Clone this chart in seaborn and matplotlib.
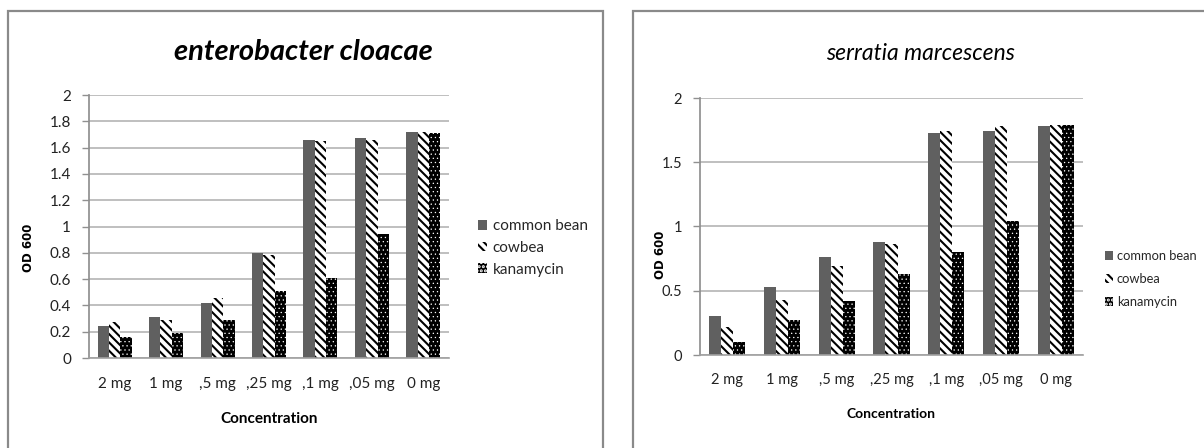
import matplotlib
matplotlib.use('Agg')
import matplotlib.pyplot as plt
import seaborn as sns
import pandas as pd
from matplotlib.patches import Rectangle, Patch
from matplotlib import font_manager

# ---------------- data ----------------
categories = ['2 mg', '1 mg', ',5 mg', ',25 mg', ',1 mg', ',05 mg', '0 mg']
series = ['common bean', 'cowbea', 'kanamycin']

ec_common = [0.24, 0.31, 0.42, 0.80, 1.66, 1.67, 1.72]
ec_cowbea = [0.27, 0.29, 0.46, 0.78, 1.65, 1.66, 1.72]
ec_kana = [0.16, 0.19, 0.29, 0.51, 0.61, 0.94, 1.71]

sm_common = [0.30, 0.53, 0.76, 0.88, 1.73, 1.74, 1.78]
sm_cowbea = [0.22, 0.43, 0.69, 0.86, 1.74, 1.78, 1.79]
sm_kana = [0.10, 0.27, 0.42, 0.63, 0.80, 1.04, 1.79]

ec_yticks = [0, 0.2, 0.4, 0.6, 0.8, 1.0, 1.2, 1.4, 1.6, 1.8, 2.0]
ec_yticklabels = ['0', '0.2', '0.4', '0.6', '0.8', '1', '1.2', '1.4', '1.6', '1.8', '2']
sm_yticks = [0, 0.5, 1.0, 1.5, 2.0]
sm_yticklabels = ['0', '0.5', '1', '1.5', '2']

# ---------------- style ----------------
sns.set_theme(style='white')
fams = {f.name for f in font_manager.fontManager.ttflist}
main_font = 'Lato' if 'Lato' in fams else 'DejaVu Sans'
plt.rcParams['font.family'] = [main_font, 'DejaVu Sans']
plt.rcParams['hatch.linewidth'] = 1.5

GRAY = '#606060'
GRID = '#b4b4b4'
COW_HATCH = '\\\\\\\\'
KAN_HATCH = '....'


def make_df(common, cowbea, kana):
    return pd.DataFrame({
        'Concentration': categories * 3,
        'OD': list(common) + list(cowbea) + list(kana),
        'series': [series[0]] * len(categories) + [series[1]] * len(categories)
                  + [series[2]] * len(categories),
    })


def style_patch(p, i):
    if i == 0:
        p.set_facecolor(GRAY)
        p.set_edgecolor(GRAY)
        p.set_linewidth(0)
    elif i == 1:
        p.set_facecolor('white')
        p.set_edgecolor('black')
        p.set_hatch(COW_HATCH)
        p.set_linewidth(0)
    else:
        p.set_facecolor('black')
        p.set_edgecolor('white')
        p.set_hatch(KAN_HATCH)
        p.set_linewidth(0)
        try:
            p.set_hatch_linewidth(0.4)
        except Exception:
            pass


def style_bars(ax):
    for i, cont in enumerate(ax.containers):
        for p in cont.patches:
            style_patch(p, i)


def legend_handles():
    hs = []
    for i in range(3):
        h = Patch()
        style_patch(h, i)
        hs.append(h)
    return hs


def draw(ax, df, yticks, yticklabels, fs, xpad):
    sns.barplot(data=df, x='Concentration', y='OD', hue='series', hue_order=series,
                order=categories, palette=[GRAY, 'white', 'black'], width=0.66,
                gap=0, saturation=1, legend=False, ax=ax, errorbar=None)
    style_bars(ax)
    ax.set_ylim(0, 2)
    ax.set_xlim(-0.5, len(categories) - 0.5)
    ax.set_yticks(yticks)
    ax.set_yticklabels(yticklabels)
    ax.set_axisbelow(True)
    ax.yaxis.grid(True, color=GRID, linewidth=1.2)
    ax.xaxis.grid(False)
    for s in ['top', 'right']:
        ax.spines[s].set_visible(False)
    ax.spines['left'].set_color('#909090')
    ax.spines['bottom'].set_color('#a0a0a0')
    ax.spines['bottom'].set_linewidth(1.2)
    ax.tick_params(axis='y', left=True, length=5, width=1, color='#909090',
                   labelsize=fs, labelcolor='#222222', pad=8)
    ax.tick_params(axis='x', bottom=False, length=0, labelsize=fs,
                   labelcolor='#222222', pad=xpad)
    ax.set_xlabel('')
    ax.set_ylabel('')
    ax.set_facecolor('white')


fig = plt.figure(figsize=(12.04, 4.48), dpi=100)
fig.patch.set_facecolor('white')

# panel frames
fig.patches.append(Rectangle((8 / 1204, -0.02), (603 - 8) / 1204, 1 - 11 / 448 + 0.02,
                             transform=fig.transFigure, fill=False,
                             edgecolor='#8a8a8a', linewidth=1.6, zorder=0))
fig.patches.append(Rectangle((633 / 1204, -0.02), 0.5, 1 - 11 / 448 + 0.02,
                             transform=fig.transFigure, fill=False,
                             edgecolor='#8a8a8a', linewidth=1.6, zorder=0))

# left chart
ax1 = fig.add_axes([89 / 1204, 1 - 358 / 448, (449 - 89) / 1204, (358 - 95) / 448])
draw(ax1, make_df(ec_common, ec_cowbea, ec_kana), ec_yticks, ec_yticklabels, 11, 14)
fig.text(303 / 1204, 1 - 52 / 448, 'enterobacter cloacae', ha='center', va='center',
         fontsize=21, fontweight='bold', fontstyle='italic', color='black')
fig.text(28 / 1204, 1 - 248 / 448, 'OD 600', rotation=90, ha='center', va='center',
         fontsize=8.5, fontweight='bold', family='DejaVu Sans', color='black')
fig.text(269 / 1204, 1 - 419 / 448, 'Concentration', ha='center', va='center',
         fontsize=11, fontweight='bold', color='black')
fig.legend(legend_handles(), series, loc='center left',
           bbox_to_anchor=(478 / 1204, 1 - 248 / 448), frameon=False,
           handlelength=0.6, handleheight=0.6, handletextpad=0.35,
           labelspacing=0.5, fontsize=11, borderaxespad=0, borderpad=0)

# right chart
ax2 = fig.add_axes([700 / 1204, 1 - 355 / 448, (1083 - 700) / 1204, (355 - 98) / 448])
draw(ax2, make_df(sm_common, sm_cowbea, sm_kana), sm_yticks, sm_yticklabels, 10.5, 13)
fig.text(920 / 1204, 1 - 53 / 448, 'serratia marcescens', ha='center', va='center',
         fontsize=16.5, fontstyle='italic', color='black')
fig.text(660 / 1204, 1 - 255 / 448, 'OD 600', rotation=90, ha='center', va='center',
         fontsize=8.5, fontweight='bold', family='DejaVu Sans', color='black')
fig.text(891 / 1204, 1 - 414 / 448, 'Concentration', ha='center', va='center',
         fontsize=10, fontweight='bold', color='black')
fig.legend(legend_handles(), series, loc='center left',
           bbox_to_anchor=(1105 / 1204, 1 - 279 / 448), frameon=False,
           handlelength=0.6, handleheight=0.6, handletextpad=0.3,
           labelspacing=0.85, fontsize=9.3, borderaxespad=0, borderpad=0)

fig.savefig('out.png', dpi=100, facecolor='white')
